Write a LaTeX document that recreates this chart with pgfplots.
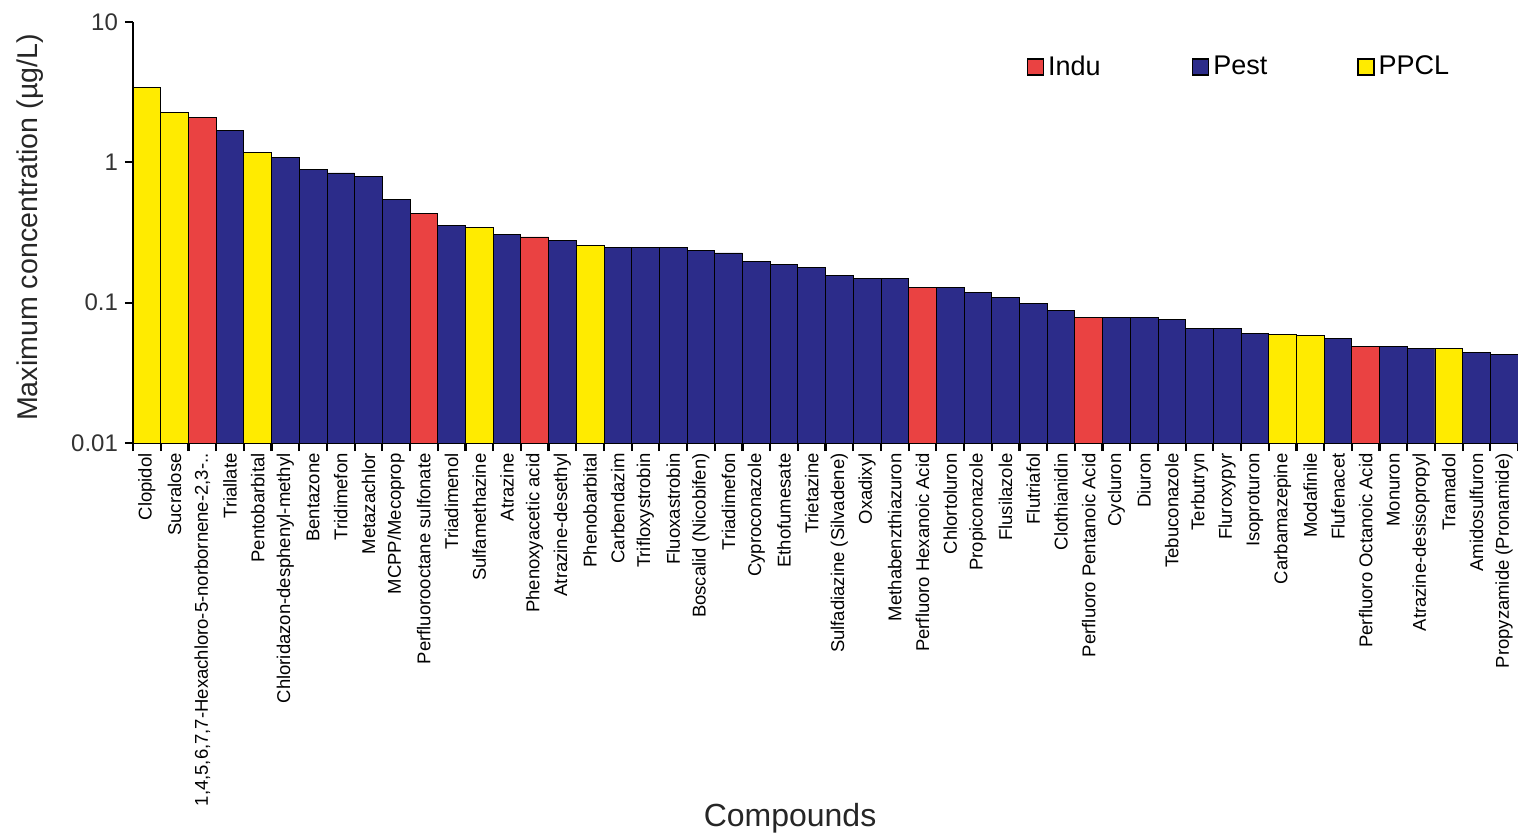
\documentclass[border=0pt]{standalone}
\usepackage{pgfplots}
\pgfplotsset{compat=1.18}
\usepackage{fontspec}
\setmainfont{Liberation Sans}

\definecolor{indu}{RGB}{234,66,66}
\definecolor{pest}{RGB}{44,44,138}
\definecolor{ppcl}{RGB}{255,235,0}

\begin{document}
\begin{tikzpicture}
\useasboundingbox (0,0) rectangle (759pt,418.5pt);
\begin{axis}[
  at={(66.5pt,197pt)}, anchor=south west,
  width=692.5pt, height=210.5pt, scale only axis,
  ymode=log, log origin=infty,
  ymin=0.01, ymax=10,
  xmin=-0.5, xmax=49.5,
  axis x line=bottom, axis y line=left,
  axis line style={-, line width=1pt, black},
  ybar, bar width=1, bar shift=0pt,
  ytick={0.01,0.1,1,10},
  yticklabels={0.01,0.1,1,10},
  yminorticks=false,
  xminorticks=false,
  xtick pos=bottom, ytick pos=left,
  tick align=outside,
  major tick length=4pt,
  every major tick/.append style={draw=black, line width=1.1pt},
  % ticks sit on the bar boundaries, names centred between them
  xtick={-0.5,0.5,...,49.5},
  x tick label as interval,
  xticklabels={Clopidol, Sucralose, {1,4,5,6,7,7-Hexachloro-5-norbornene-2,3-..}, Triallate, Pentobarbital, Chloridazon-desphenyl-methyl, Bentazone, Tridimefon, Metazachlor, MCPP/Mecoprop, Perfluorooctane sulfonate, Triadimenol, Sulfamethazine, Atrazine, Phenoxyacetic acid, Atrazine-desethyl, Phenobarbital, Carbendazim, Trifloxystrobin, Fluoxastrobin, Boscalid (Nicobifen), Triadimefon, Cyproconazole, Ethofumesate, Trietazine, Sulfadiazine (Silvadene), Oxadixyl, Methabenzthiazuron, Perfluoro Hexanoic Acid, Chlortoluron, Propiconazole, Flusilazole, Flutriafol, Clothianidin, Perfluoro Pentanoic Acid, Cycluron, Diuron, Tebuconazole, Terbutryn, Fluroxypyr, Isoproturon, Carbamazepine, Modafinile, Flufenacet, Perfluoro Octanoic Acid, Monuron, Atrazine-desisopropyl, Tramadol, Amidosulfuron, Propyzamide (Pronamide)},
  xticklabel style={rotate=90, anchor=east, font=\fontsize{9.25pt}{10pt}\selectfont, inner sep=1pt},
  yticklabel style={font=\fontsize{12pt}{13pt}\selectfont, text=black!80},
  ylabel={Maximum concentration (µg/L)},
  ylabel style={at={(axis description cs:-0.0744,0.512)}, anchor=center, font=\fontsize{14.3pt}{16pt}\selectfont, text=black!85},
  xlabel={Compounds},
  xlabel style={at={(axis description cs:0.4744,-0.891)}, anchor=center, font=\fontsize{16pt}{18pt}\selectfont, text=black!85},
  legend columns=3,
  legend style={at={(axis description cs:0.6408,0.893)}, anchor=west, draw=none, fill=none,
    font=\fontsize{13.5pt}{15pt}\selectfont, nodes={inner sep=2pt},
    /tikz/every even column/.append style={column sep=0pt}},
  legend image code/.code={\draw[#1, draw=black, line width=0.6pt] (0pt,-4pt) rectangle (8pt,4pt);},
  every axis plot/.append style={draw=black, line width=0.4pt},
]
% Industrial compounds
\addplot[fill=indu] coordinates {
  (2,2.08) (10,0.432) (14,0.294) (28,0.128) (34,0.078) (44,0.0489)
};
% Pesticides and metabolites
\addplot[fill=pest] coordinates {
  (3,1.68) (5,1.09) (6,0.89) (7,0.84) (8,0.79) (9,0.544)
  (11,0.355) (13,0.306) (15,0.277) (17,0.246) (18,0.246) (19,0.246)
  (20,0.237) (21,0.226) (22,0.196) (23,0.187) (24,0.177) (25,0.157)
  (26,0.148) (27,0.148) (29,0.128) (30,0.118) (31,0.109) (32,0.0985)
  (33,0.088) (35,0.078) (36,0.078) (37,0.0764) (38,0.0656) (39,0.0656)
  (40,0.0601) (43,0.056) (45,0.0489) (46,0.047) (48,0.0442) (49,0.043)
};
% Pharmaceuticals and personal care products
\addplot[fill=ppcl] coordinates {
  (0,3.43) (1,2.26) (4,1.18) (12,0.343) (16,0.254) (41,0.0595) (42,0.0588) (47,0.047)
};
\legend{\makebox[70pt][l]{Indu}, \makebox[70pt][l]{Pest}, PPCL}
\end{axis}
\end{tikzpicture}
\end{document}
